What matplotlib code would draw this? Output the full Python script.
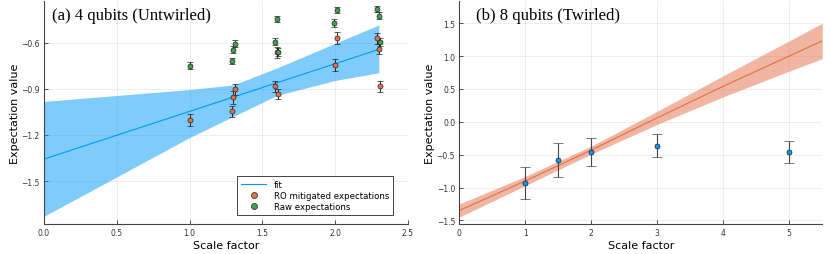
import matplotlib
matplotlib.use("Agg")
import matplotlib.pyplot as plt
import numpy as np

# (a) 4 qubits, untwirled
ro_x = [1.0, 1.29, 1.30, 1.31, 1.59, 1.60, 1.61, 2.0, 2.01, 2.29, 2.30, 2.31]
ro_y = [-1.105, -1.047, -0.956, -0.904, -0.883, -0.662, -0.934, -0.745, -0.568, -0.572, -0.641, -0.883]
ro_err = [0.04, 0.035, 0.04, 0.035, 0.035, 0.035, 0.035, 0.04, 0.04, 0.035, 0.035, 0.035]

raw_x = [1.0, 1.29, 1.30, 1.31, 1.59, 1.60, 1.61, 1.99, 2.01, 2.29, 2.30, 2.31]
raw_y = [-0.749, -0.72, -0.647, -0.608, -0.593, -0.446, -0.662, -0.474, -0.388, -0.382, -0.425, -0.597]
raw_err = [0.025, 0.022, 0.022, 0.022, 0.025, 0.022, 0.025, 0.025, 0.022, 0.022, 0.022, 0.025]

fit_a_x = [0.0, 1.0, 1.3, 1.6, 2.0, 2.3]
fit_a_y = [-1.357, -1.047, -0.954, -0.861, -0.737, -0.644]
fit_a_hi = [-0.982, -0.905, -0.875, -0.765, -0.604, -0.485]
fit_a_lo = [-1.729, -1.217, -1.08, -0.943, -0.846, -0.796]

# (b) 8 qubits, twirled
tw_x = [1.0, 1.5, 2.0, 3.0, 5.0]
tw_y = [-0.936, -0.581, -0.463, -0.363, -0.459]
tw_err = [0.244, 0.26, 0.21, 0.17, 0.17]

fit_b_x = [0.0, 1.0, 2.0, 3.0, 4.0, 5.0, 5.5]
fit_b_y = [-1.35, -0.90, -0.43, 0.06, 0.54, 1.0, 1.23]
fit_b_hi = [-1.25, -0.83, -0.37, 0.16, 0.70, 1.23, 1.50]
fit_b_lo = [-1.45, -0.97, -0.49, -0.04, 0.38, 0.77, 0.96]

blue = "#009af9"
orange = "#e26f46"
green = "#3da44d"

fig = plt.figure(figsize=(8.31, 2.55), dpi=100)
ax1 = fig.add_axes([0.0529, 0.1188, 0.438, 0.873])
ax2 = fig.add_axes([0.5527, 0.1188, 0.4368, 0.873])


def style(ax):
    ax.spines["top"].set_visible(False)
    ax.spines["right"].set_visible(False)
    for s in ["left", "bottom"]:
        ax.spines[s].set_color("#444444")
        ax.spines[s].set_linewidth(0.8)
    ax.grid(True, color="#000000", alpha=0.08, linewidth=0.6)
    ax.set_axisbelow(True)
    ax.tick_params(direction="in", length=3, width=0.6, labelsize=5.5, colors="#333333", pad=3)
    ax.set_xlabel("Scale factor", fontsize=8, labelpad=2)
    ax.set_ylabel("Expectation value", fontsize=8, labelpad=1)


# left panel
ax1.fill_between(fit_a_x, fit_a_lo, fit_a_hi, color=blue, alpha=0.5, linewidth=0)
ax1.plot(fit_a_x, fit_a_y, color=blue, linewidth=0.8, label="fit")
ax1.errorbar(ro_x, ro_y, yerr=ro_err, fmt="o", color=orange, ms=3.6, mec="#222222", mew=0.5,
             ecolor="#222222", elinewidth=0.7, capsize=2.4, capthick=0.7, label="RO mitigated expectations")
ax1.errorbar(raw_x, raw_y, yerr=raw_err, fmt="o", color=green, ms=3.6, mec="#222222", mew=0.5,
             ecolor="#222222", elinewidth=0.7, capsize=2.4, capthick=0.7, label="Raw expectations")
ax1.set_xlim(0, 2.5)
ax1.set_ylim(-1.777, -0.33)
ax1.set_xticks([0.0, 0.5, 1.0, 1.5, 2.0, 2.5])
ax1.set_yticks([-1.5, -1.2, -0.9, -0.6])
style(ax1)
h, l = ax1.get_legend_handles_labels()
h = [hh[0] if isinstance(hh, matplotlib.container.ErrorbarContainer) else hh for hh in h]
leg = ax1.legend(h, l, loc="lower right", bbox_to_anchor=(0.965, 0.03), fontsize=6.2, frameon=True,
                 fancybox=False, edgecolor="#444444", framealpha=1, handlelength=3.0, labelspacing=0.25,
                 borderpad=0.45, handletextpad=0.9, markerscale=1.2, borderaxespad=0.2)
leg.get_frame().set_linewidth(0.7)
ax1.text(0.022, 0.975, "(a) 4 qubits (Untwirled)", transform=ax1.transAxes, ha="left", va="top",
         fontsize=12, family="Liberation Serif")

# right panel
ax2.fill_between(fit_b_x, fit_b_lo, fit_b_hi, color=orange, alpha=0.5, linewidth=0)
ax2.plot(fit_b_x, fit_b_y, color=orange, linewidth=0.8)
ax2.errorbar(tw_x, tw_y, yerr=tw_err, fmt="o", color=blue, ms=3.6, mec="#222222", mew=0.5,
             ecolor="#444444", elinewidth=0.8, capsize=3.6, capthick=0.8)
ax2.set_xlim(0, 5.5)
ax2.set_ylim(-1.55, 1.835)
ax2.set_xticks([0, 1, 2, 3, 4, 5])
ax2.set_yticks([-1.5, -1.0, -0.5, 0.0, 0.5, 1.0, 1.5])
style(ax2)
ax2.text(0.046, 0.975, "(b) 8 qubits (Twirled)", transform=ax2.transAxes, ha="left", va="top",
         fontsize=12, family="Liberation Serif")

fig.savefig("out.png", dpi=100)
